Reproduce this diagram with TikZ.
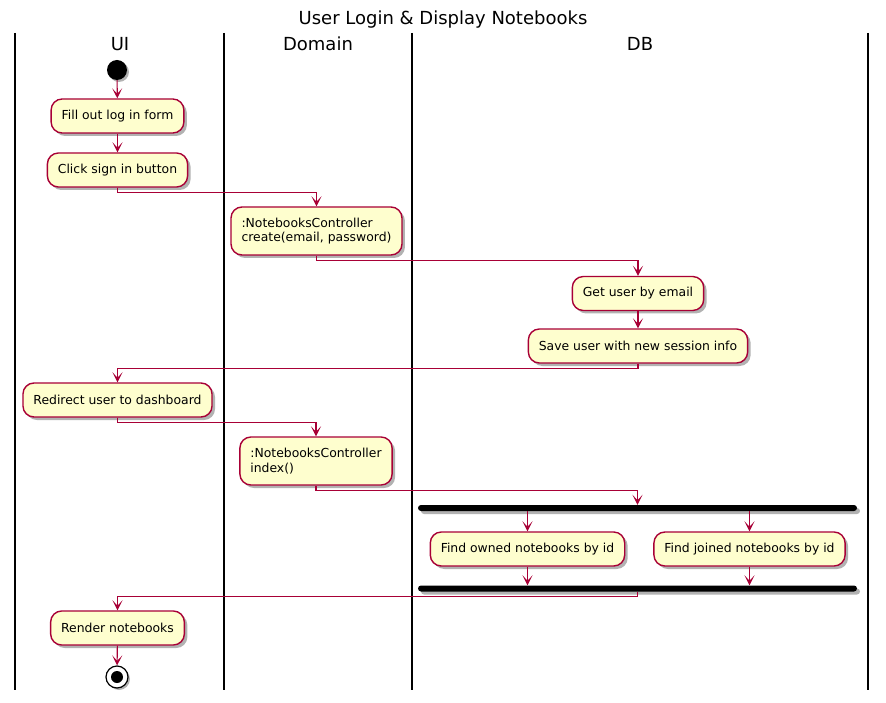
\documentclass[tikz,border=0pt]{standalone}
\usepackage{fontspec}
\setmainfont{DejaVu Sans}
\usetikzlibrary{arrows.meta,shadows}
\definecolor{pfill}{HTML}{FEFECE}
\definecolor{pline}{HTML}{A80036}
\begin{document}
\begin{tikzpicture}[x=1pt,y=-1pt,
  act/.style={draw=pline, fill=pfill, line width=1.4pt, rounded corners=11pt,
    inner xsep=10.5pt, inner ysep=0pt, minimum height=34pt,
    font=\fontsize{12.4}{14.5}\selectfont,
    drop shadow={shadow xshift=3pt, shadow yshift=-3pt, opacity=0.3, fill=black}},
  act2/.style={act, align=left, minimum height=48pt},
  arr/.style={draw=pline, line width=1.1pt, -{Stealth[length=10pt,width=10pt,inset=5.5pt]}},
  lane/.style={line width=1.6pt, black},
  head/.style={font=\fontsize{18}{21}\selectfont},
  bar/.style={fill=black, rounded corners=3pt, minimum height=6pt, minimum width=439pt,
    inner sep=0pt, drop shadow={shadow xshift=3pt, shadow yshift=-3pt, opacity=0.3, fill=black}}]
\useasboundingbox (0,0) rectangle (886,703);
\fill[white] (0,0) rectangle (886,703);
% title and headers
\node[head] (title) at (443,20) {User Login \& Display Notebooks};
\node[head] (hui) at (120,44) {UI};
\node[head] (hdom) at (318,44) {Domain};
\node[head] (hdb) at (640,44) {DB};
% lanes
\draw[lane] (15,33) -- (15,690);
\draw[lane] (224,33) -- (224,690);
\draw[lane] (412,33) -- (412,690);
\draw[lane] (868,33) -- (868,690);
% nodes
\node[circle, fill=black, minimum size=20pt, inner sep=0pt,
  drop shadow={shadow xshift=2pt, shadow yshift=-2pt, opacity=0.3, fill=black}] (start) at (117,70) {};
\node[act] (fill) at (117.5,116) {Fill out log in form};
\node[act] (click) at (117.5,170) {Click sign in button};
\node[act2] (ctrl1) at (316.5,231) {:NotebooksController\\create(email, password)};
\node[act] (getuser) at (638,293.5) {Get user by email};
\node[act] (save) at (638,346) {Save user with new session info};
\node[act] (redirect) at (117.5,400) {Redirect user to dashboard};
\node[act2] (ctrl2) at (316,461) {:NotebooksController\\index()};
\node[bar] (fork) at (637.5,508) {};
\node[act] (owned) at (527.5,549) {Find owned notebooks by id};
\node[act] (joined) at (749.5,549) {Find joined notebooks by id};
\node[bar] (join) at (637.5,588.5) {};
\node[act] (render) at (117.5,628) {Render notebooks};
\node[circle, draw=black, line width=1.2pt, fill=white, minimum size=22pt, inner sep=0pt,
  drop shadow={shadow xshift=2pt, shadow yshift=-2pt, opacity=0.3, fill=black}] (stop) at (117,677) {};
\node[circle, fill=black, minimum size=12pt, inner sep=0pt] (stopin) at (117,677) {};
% connectors
\draw[arr] (start) -- (fill);
\draw[arr] (fill) -- (click);
\draw[arr] (click.south) -- ++(0,5) -| (ctrl1.north);
\draw[arr] (ctrl1.south) -- ++(0,5) -| (getuser.north);
\draw[arr] (getuser) -- (save);
\draw[arr] (save.south) -- ++(0,5) -| (redirect.north);
\draw[arr] (redirect.south) -- ++(0,5) -| (ctrl2.north);
\draw[arr] (ctrl2.south) -- ++(0,5) -| (fork.north);
\draw[arr] (owned.north |- fork.south) -- (owned.north);
\draw[arr] (joined.north |- fork.south) -- (joined.north);
\draw[arr] (owned.south) -- (owned.south |- join.north);
\draw[arr] (joined.south) -- (joined.south |- join.north);
\draw[arr] (join.south) -- ++(0,5) -| (render.north);
\draw[arr] (render) -- (stop);
\end{tikzpicture}
\end{document}
